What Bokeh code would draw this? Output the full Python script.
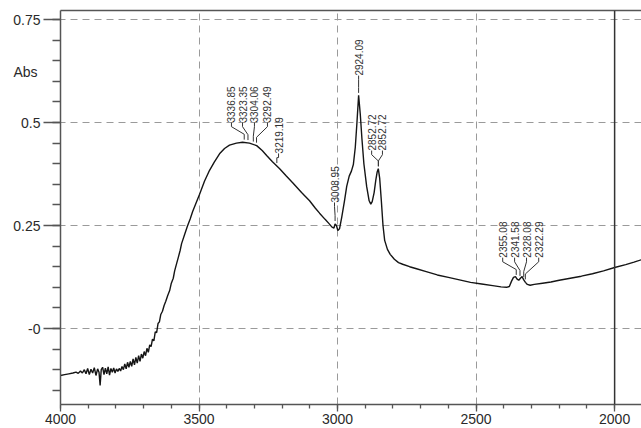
import numpy as np
from math import pi
from bokeh.plotting import figure
from bokeh.models import Range1d, FixedTicker, LinearAxis, Span, ColumnDataSource
from bokeh.core.properties import value
from bokeh.embed import file_html
from bokeh.resources import INLINE

# ---- spectrum (wavenumber cm-1, absorbance) ----
wavenumber = [4000, 3985, 3970, 3955, 3944, 3936, 3928, 3921, 3914, 3908, 3902, 3896, 3890, 3884,
              3878, 3872, 3866, 3861, 3857, 3853, 3848, 3843, 3838, 3833, 3828, 3823, 3818, 3813,
              3808, 3803, 3798, 3793, 3788, 3783, 3778, 3773, 3768, 3763, 3758, 3753, 3748, 3743,
              3738, 3733, 3728, 3723, 3718, 3713, 3708, 3703, 3698, 3693, 3688, 3683, 3678, 3673,
              3668, 3663, 3658, 3653, 3648, 3643, 3638, 3632, 3626, 3620, 3613, 3606, 3600, 3593,
              3588, 3580, 3575, 3568, 3563, 3552, 3542, 3532, 3523, 3510, 3498, 3480, 3462, 3445,
              3426, 3408, 3390, 3365, 3343, 3318, 3292, 3272, 3256, 3235, 3209, 3185, 3162, 3130,
              3101, 3080, 3065, 3045, 3030, 3020, 3013, 3009, 3004, 2999, 2993, 2985, 2975, 2967,
              2958, 2950, 2943, 2936, 2930, 2924, 2918, 2912, 2905, 2895, 2886, 2880, 2875, 2868,
              2862, 2857, 2853, 2848, 2842, 2836, 2830, 2820, 2810, 2795, 2780, 2765, 2740, 2715,
              2680, 2640, 2600, 2560, 2520, 2480, 2440, 2410, 2390, 2380, 2372, 2365, 2358, 2352,
              2346, 2340, 2334, 2328, 2322, 2315, 2305, 2290, 2260, 2230, 2200, 2160, 2120, 2080,
              2040, 2000, 1960, 1930, 1903]
absorbance = [-0.114, -0.112, -0.110, -0.108, -0.106, -0.109, -0.103, -0.108, -0.100, -0.110, -0.097,
              -0.112, -0.099, -0.108, -0.095, -0.114, -0.098, -0.106, -0.138, -0.100, -0.094, -0.112,
              -0.096, -0.110, -0.093, -0.113, -0.097, -0.106, -0.096, -0.108, -0.098, -0.104, -0.097,
              -0.103, -0.092, -0.100, -0.086, -0.098, -0.082, -0.094, -0.080, -0.092, -0.074, -0.088,
              -0.070, -0.084, -0.066, -0.080, -0.062, -0.072, -0.056, -0.066, -0.048, -0.058, -0.040,
              -0.044, -0.026, -0.030, -0.008, -0.010, 0.012, 0.016, 0.034, 0.042, 0.056, 0.066,
              0.080, 0.092, 0.110, 0.122, 0.140, 0.160, 0.172, 0.190, 0.206, 0.228, 0.248, 0.266,
              0.284, 0.306, 0.326, 0.358, 0.384, 0.404, 0.424, 0.437, 0.445, 0.450, 0.452, 0.450,
              0.444, 0.432, 0.420, 0.405, 0.388, 0.370, 0.354, 0.330, 0.310, 0.292, 0.280, 0.265,
              0.254, 0.246, 0.244, 0.254, 0.250, 0.238, 0.242, 0.270, 0.310, 0.345, 0.370, 0.382,
              0.398, 0.440, 0.500, 0.566, 0.520, 0.460, 0.400, 0.345, 0.310, 0.302, 0.308, 0.330,
              0.360, 0.380, 0.388, 0.365, 0.310, 0.250, 0.214, 0.192, 0.180, 0.168, 0.160, 0.156,
              0.150, 0.145, 0.138, 0.130, 0.124, 0.118, 0.112, 0.108, 0.104, 0.101, 0.100, 0.102,
              0.115, 0.124, 0.126, 0.120, 0.117, 0.122, 0.126, 0.118, 0.112, 0.107, 0.105, 0.107,
              0.110, 0.113, 0.117, 0.122, 0.127, 0.133, 0.140, 0.148, 0.155, 0.161, 0.167]

# ---- peak annotations ----
peak_labels = ["3336.85", "3323.35", "3304.06", "3292.49", "3219.19", "3008.95", "2924.09",
               "2852.72", "2852.72", "2355.08", "2341.58", "2328.08", "2322.29"]
peak_wn = [3336.85, 3323.35, 3304.06, 3292.49, 3219.19, 3008.95, 2924.09,
           2852.72, 2852.72, 2355.08, 2341.58, 2328.08, 2322.29]
label_wn = [3383, 3343, 3300, 3253, 3213, 3011, 2924, 2877, 2838, 2404, 2361, 2318, 2274]
label_base = [0.500, 0.500, 0.500, 0.500, 0.425, 0.306, 0.614, 0.432, 0.432, 0.172, 0.172, 0.172, 0.172]

x_ticks = [4000, 3500, 3000, 2500, 2000]
y_ticks = [0, 0.25, 0.5, 0.75]
y_tick_labels = ["-0", "0.25", "0.5", "0.75"]
y_title = "Abs"
y_title_pos = 0.622

FONT = "Liberation Sans"

p = figure(width=641, height=428, output_backend="svg", toolbar_location=None,
           x_range=Range1d(4000, 1903), y_range=Range1d(-0.1845, 0.772),
           min_border_left=60, min_border_right=0, min_border_top=10, min_border_bottom=24,
           background_fill_color="white", border_fill_color="white")
p.outline_line_color = None

xa = p.xaxis[0]
xa.ticker = FixedTicker(ticks=x_ticks, minor_ticks=list(range(4000, 1899, -100)))
xa.major_tick_out = 7
xa.minor_tick_out = 4
xa.major_label_standoff = 2

ya = p.yaxis[0]
ya.ticker = FixedTicker(ticks=y_ticks,
                        minor_ticks=[round(-0.15 + 0.05 * i, 2) for i in range(19)])
ya.major_label_overrides = {t: s for t, s in zip(y_ticks, y_tick_labels)}
ya.major_tick_out = 17
ya.minor_tick_out = 8
ya.major_label_standoff = 3

for ax in (xa, ya):
    ax.axis_line_color = "#555555"
    ax.axis_line_width = 1.5
    ax.major_tick_line_color = "#555555"
    ax.minor_tick_line_color = "#555555"
    ax.major_tick_line_width = 1.3
    ax.minor_tick_line_width = 1.3
    ax.major_tick_in = 0
    ax.minor_tick_in = 0
    ax.major_label_text_font = FONT
    ax.major_label_text_font_size = "14px"
    ax.major_label_text_color = "#2a2a2a"

# "Abs" placed through a second, label-only axis pulled back beside the tick labels
ytitle_axis = LinearAxis(ticker=FixedTicker(ticks=[y_title_pos]),
                         major_label_overrides={y_title_pos: y_title},
                         axis_line_color=None, major_tick_line_color=None, minor_tick_line_color=None,
                         major_tick_out=0, major_tick_in=0, minor_tick_out=0, minor_tick_in=0,
                         major_label_standoff=-27, major_label_text_font=FONT,
                         major_label_text_font_size="14px", major_label_text_color="#2a2a2a")
p.add_layout(ytitle_axis, "left")

top = LinearAxis(ticker=FixedTicker(ticks=[]), axis_line_color="#555555", axis_line_width=1.5,
                 major_tick_out=0, minor_tick_out=0)
p.add_layout(top, "above")

p.xgrid.ticker = FixedTicker(ticks=[3500, 3000, 2500])
p.ygrid.ticker = FixedTicker(ticks=y_ticks)
for g in (p.xgrid[0], p.ygrid[0]):
    g.grid_line_color = "#9a9a9a"
    g.grid_line_dash = "7 5"
    g.grid_line_width = 1

p.add_layout(Span(location=2000, dimension="height", line_color="#333333", line_width=1.5))

p.line(wavenumber, absorbance, line_color="#151515", line_width=1.4)

curve_at = np.interp(peak_wn[::-1], wavenumber[::-1], absorbance[::-1])[::-1]
xs, ys = [], []
for lx, lb, pk, cy in zip(label_wn, label_base, peak_wn, curve_at):
    end = cy + 0.007
    e2 = end + 0.013
    e1 = lb - 0.010
    xs.append([lx, lx, pk, pk])
    ys.append([lb, e1, e2, end])
p.multi_line(xs, ys, line_color="#333333", line_width=1)

src = ColumnDataSource(dict(x=label_wn, y=label_base, t=peak_labels))
p.text(x="x", y="y", text="t", source=src, angle=pi / 2, text_font=value(FONT),
       text_font_size="10px", text_align="left", text_baseline="middle", text_color="#333333")

open("out.html", "w").write(file_html(p, INLINE))
